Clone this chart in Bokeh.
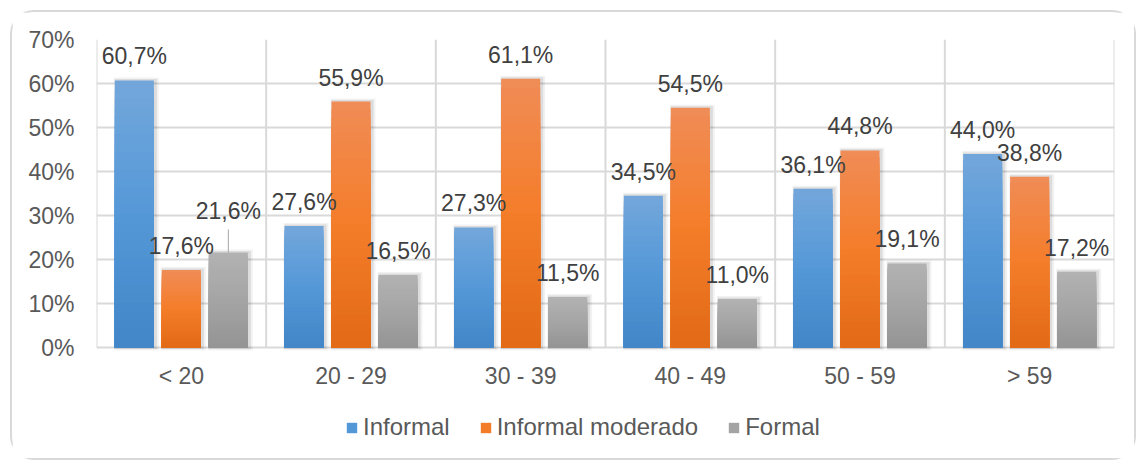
import numpy as np
from bokeh.plotting import figure
from bokeh.models import (ColumnDataSource, Range1d, FixedTicker, LabelSet,
                          Legend, LegendItem)
from bokeh.core.properties import value
from bokeh.transform import dodge
from bokeh.embed import file_html
from bokeh.resources import INLINE

# ---- data -------------------------------------------------------------
age_groups = ["< 20", "20 - 29", "30 - 39", "40 - 49", "50 - 59", "> 59"]
series_names = ["Informal", "Informal moderado", "Formal"]
informal = [60.7, 27.6, 27.3, 34.5, 36.1, 44.0]
informal_moderado = [17.6, 55.9, 61.1, 54.5, 44.8, 38.8]
formal = [21.6, 16.5, 11.5, 11.0, 19.1, 17.2]
y_ticks = [0, 10, 20, 30, 40, 50, 60, 70]
y_tick_labels = ["0%", "10%", "20%", "30%", "40%", "50%", "60%", "70%"]

series_values = [informal, informal_moderado, formal]

# ---- style ------------------------------------------------------------
# (top, middle, bottom) stops of each series' vertical gradient
gradients = [
    ("#73a7db", "#5598d8", "#4286c7"),
    ("#f08c56", "#f47d2a", "#e26a16"),
    ("#b2b2b2", "#a5a5a5", "#949494"),
]
bar_offsets = [-0.277, 0.0, 0.277]
BAR_W = 0.23
STEPS = 30
FONT = "Liberation Sans"
FONT_SIZE = "23px"
LEGEND_FONT_SIZE = "24px"
GRID = "#d9d9d9"
PLOT_W, PLOT_H = 1018, 308       # pixel size of the 0-70 % plotting area
BELOW_PX = 108                   # room under the 0 % line for labels and legend
LABEL_LIFT = 24
raised_labels = {("Formal", "< 20"): 41}
LEADER_PX = 23
CATEGORY_DROP = 28

px_x = len(age_groups) / PLOT_W               # x data units per pixel
px_y = (y_ticks[-1] - y_ticks[0]) / PLOT_H    # y data units per pixel


def hex_rgb(h):
    h = h.lstrip("#")
    return np.array([int(h[i:i + 2], 16) for i in (0, 2, 4)], dtype=float)


def shade(stops, f):
    """Colour at height fraction f of a bar (0 = bottom, 1 = top)."""
    top, mid, bot = (hex_rgb(c) for c in stops)
    if f >= 0.5:
        c = mid + (top - mid) * (f - 0.5) / 0.5
    else:
        c = bot + (mid - bot) * f / 0.5
    r, g, b = (int(round(v)) for v in c)
    return f"#{r:02x}{g:02x}{b:02x}"


x_pos = np.arange(len(age_groups))

p = figure(width=1126, height=450,
           x_range=Range1d(-0.5, len(age_groups) - 0.5),
           y_range=Range1d(y_ticks[0] - BELOW_PX * px_y, y_ticks[-1]),
           output_backend="svg", toolbar_location=None,
           min_border_left=84, min_border_right=24,
           min_border_top=27, min_border_bottom=7,
           background_fill_color="white", border_fill_color="white",
           styles={"margin-left": "10px", "margin-top": "10px",
                   "border": "2px solid #d9d9d9", "border-radius": "24px"})
p.outline_line_color = None

# ---- grid ---------------------------------------------------------------
p.xaxis.visible = False
p.xgrid.visible = False
p.ygrid.grid_line_color = GRID
p.ygrid.grid_line_width = 2
bounds = [float(i) - 0.5 for i in range(len(age_groups) + 1)]
p.segment(x0=bounds, y0=[y_ticks[0]] * len(bounds), x1=bounds,
          y1=[y_ticks[-1]] * len(bounds), line_color=GRID, line_width=2)

# ---- soft drop shadow behind the bars -----------------------------------
for grow, shift, alpha in ((6, 2.0, 0.05), (3, 1.5, 0.09)):
    for vals, off in zip(series_values, bar_offsets):
        shadow = ColumnDataSource(dict(x=[float(g) for g in x_pos],
                                       top=[v + grow * px_y / 2 for v in vals]))
        p.vbar(x=dodge("x", off + shift * px_x, range=p.x_range),
               top="top", bottom=-grow * px_y / 2, width=BAR_W + grow * px_x,
               source=shadow, fill_color="black", fill_alpha=alpha,
               line_color=None)

# ---- bars (each bar is layered from full height down, lighter to darker) ----
legend_items = []
for name, vals, stops, off in zip(series_names, series_values, gradients, bar_offsets):
    xs, tops, cols = [], [], []
    for g, v in zip(x_pos, vals):
        for k in range(STEPS):
            xs.append(float(g))
            tops.append(v * (STEPS - k) / STEPS)
            cols.append(shade(stops, (STEPS - k - 0.5) / STEPS))
    src = ColumnDataSource(dict(x=xs, top=tops, color=cols))
    r = p.vbar(x=dodge("x", off, range=p.x_range), top="top", bottom=0,
               width=BAR_W, fill_color="color", line_color=None, source=src)
    legend_items.append(LegendItem(label=name, renderers=[r], index=STEPS // 2))

# ---- data labels --------------------------------------------------------
lx, ly, lt, lift = [], [], [], []
seg_x, seg_y0, seg_y1 = [], [], []
for name, vals, off in zip(series_names, series_values, bar_offsets):
    for g, grp, v in zip(x_pos, age_groups, vals):
        lx.append(g + off)
        ly.append(v)
        lt.append(f"{v:.1f}%".replace(".", ","))
        extra = raised_labels.get((name, grp))
        lift.append(extra if extra else LABEL_LIFT)
        if extra:
            seg_x.append(g + off)
            seg_y0.append(v)
            seg_y1.append(v + LEADER_PX * px_y)

p.segment(x0=seg_x, y0=seg_y0, x1=seg_x, y1=seg_y1,
          line_color="#a6a6a6", line_width=1)

p.add_layout(LabelSet(x="x", y="y", text="text", y_offset="lift",
                      source=ColumnDataSource(dict(x=lx, y=ly, text=lt, lift=lift)),
                      text_align="center", text_baseline="middle",
                      text_font=value(FONT), text_font_size=FONT_SIZE,
                      text_color="#404040"))

# ---- category labels under the 0 % line ---------------------------------
p.add_layout(LabelSet(x="x", y="y", text="text", y_offset=-CATEGORY_DROP,
                      source=ColumnDataSource(dict(x=[float(g) for g in x_pos],
                                                   y=[y_ticks[0]] * len(x_pos),
                                                   text=age_groups)),
                      text_align="center", text_baseline="middle",
                      text_font=value(FONT), text_font_size=FONT_SIZE,
                      text_color="#595959"))

# ---- y axis -------------------------------------------------------------
p.yaxis.ticker = FixedTicker(ticks=y_ticks)
p.yaxis.major_label_overrides = {t: l for t, l in zip(y_ticks, y_tick_labels)}
p.yaxis.axis_line_color = None
p.yaxis.major_tick_line_color = None
p.yaxis.minor_tick_line_color = None
p.yaxis.major_tick_out = 0
p.yaxis.major_label_standoff = 22
p.yaxis.major_label_text_font = FONT
p.yaxis.major_label_text_font_size = FONT_SIZE
p.yaxis.major_label_text_color = "#595959"

# ---- legend -------------------------------------------------------------
legend = Legend(items=legend_items, location=(249, 14), orientation="horizontal",
                glyph_width=13, glyph_height=13, label_standoff=5, spacing=29,
                label_height=13, padding=0, margin=0, border_line_color=None,
                background_fill_alpha=0, label_text_font=FONT,
                label_text_font_size=LEGEND_FONT_SIZE, label_text_color="#595959")
p.add_layout(legend)

open("out.html", "w").write(file_html(p, INLINE))
